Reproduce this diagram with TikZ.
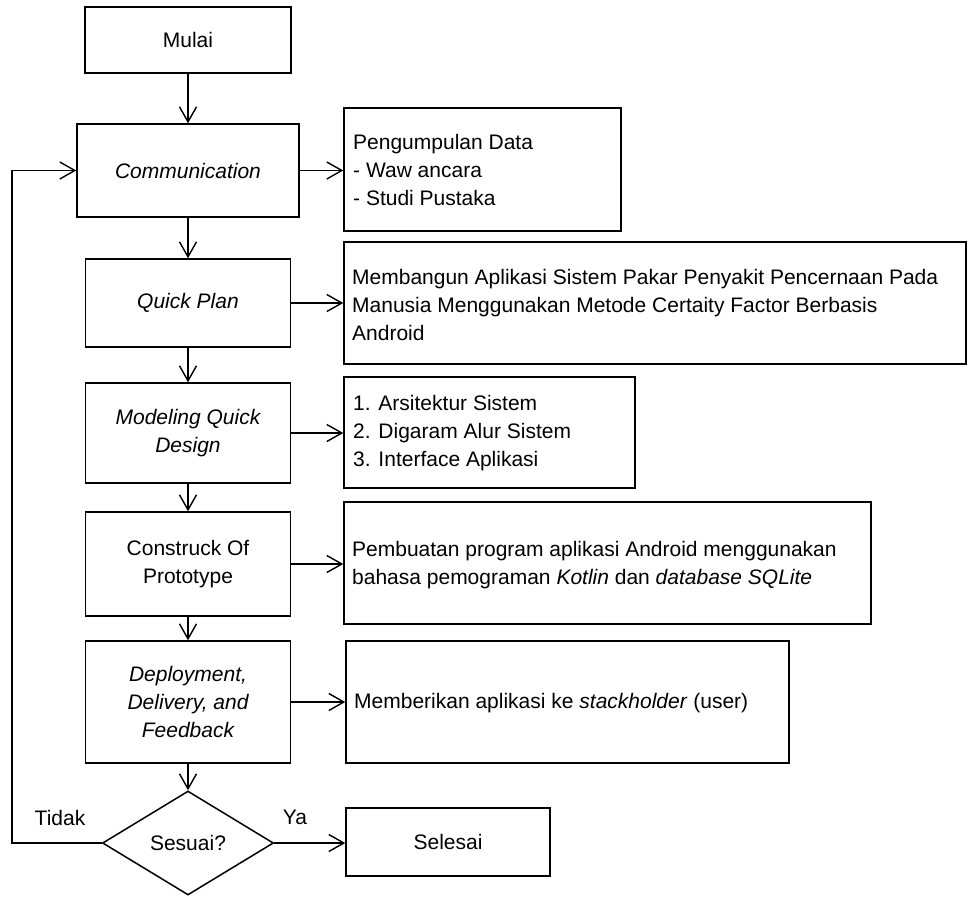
\documentclass[tikz,border=0pt]{standalone}
\usepackage{fontspec}
\setmainfont{Liberation Sans}
\usetikzlibrary{shapes.geometric,arrows.meta}
\begin{document}
\begin{tikzpicture}[x=1pt,y=-1pt,
  every node/.style={font=\fontsize{21}{28}\selectfont},
  box/.style={draw, line width=1.5pt, inner sep=0pt, align=center},
  txt/.style={inner sep=0pt, align=left, anchor=west},
  arr/.style={line width=1.4pt, -{Straight Barb[length=15pt,width=17pt,line width=1.4pt]}}
]
\useasboundingbox (0,0) rectangle (968,897);
% left column
\node[box, minimum width=206pt, minimum height=66pt] (mulai) at (188,40) {Mulai};
\node[box, minimum width=222pt, minimum height=93pt] (comm) at (188,170.5) {\itshape Communication};
\node[box, minimum width=205pt, minimum height=88pt] (qp) at (188,303) {\itshape Quick Plan};
\node[box, minimum width=205pt, minimum height=100pt] (model) at (188,433) {\itshape Modeling Quick\\\itshape Design};
\node[box, minimum width=205pt, minimum height=104pt] (cons) at (188,564) {Construck Of\\Prototype};
\node[box, minimum width=205pt, minimum height=122pt] (dep) at (188,702) {\itshape Deployment,\\\itshape Delivery, and\\\itshape Feedback};
\node[box, shape=diamond, minimum width=171pt, minimum height=104pt] (dia) at (188,843) {Sesuai?};
\node[box, minimum width=204pt, minimum height=68pt] (sel) at (448,842) {Selesai};
% right column boxes
\node[box, minimum width=277pt, minimum height=123pt] (b1) at (482.5,169.5) {};
\node[box, minimum width=622pt, minimum height=122pt] (b2) at (655,303) {};
\node[box, minimum width=291pt, minimum height=111pt] (b3) at (489.5,432.5) {};
\node[box, minimum width=527pt, minimum height=122pt] (b4) at (607.5,563) {};
\node[box, minimum width=443pt, minimum height=122pt] (b5) at (567.5,702) {};
% right column texts
\node[txt] (t1) at (353,170) {Pengumpulan Data\\- Waw ancara\\- Studi Pustaka};
\node[txt] (t2) at (352,305) {Membangun Aplikasi Sistem Pakar Penyakit Pencernaan Pada\\Manusia Menggunakan Metode Certaity Factor Berbasis\\Android};
\node[txt] (t3) at (353,433) {1. Arsitektur Sistem\\2. Digaram Alur Sistem\\3. Interface Aplikasi};
\node[txt] (t4) at (352,565) {Pembuatan program aplikasi Android menggunakan\\bahasa pemograman \textit{Kotlin} dan \textit{database SQLite}};
\node[txt] (t5) at (354,703) {Memberikan aplikasi ke \textit{stackholder} (user)};
% labels
\node (tidak) at (60,818) {Tidak};
\node (ya) at (295,817) {Ya};
% vertical arrows
\draw[arr] (mulai.south) -- (mulai.south |- comm.north);
\draw[arr] (comm.south) -- (comm.south |- qp.north);
\draw[arr] (qp.south) -- (qp.south |- model.north);
\draw[arr] (model.south) -- (model.south |- cons.north);
\draw[arr] (cons.south) -- (cons.south |- dep.north);
\draw[arr] (dep.south) -- (dia.north);
% horizontal arrows
\draw[arr] (comm.east) -- (comm.east -| b1.west);
\draw[arr] (qp.east) -- (qp.east -| b2.west);
\draw[arr] (model.east) -- (model.east -| b3.west);
\draw[arr] (cons.east) -- (cons.east -| b4.west);
\draw[arr] (dep.east) -- (dep.east -| b5.west);
\draw[arr] (dia.east) -- (dia.east -| sel.west);
% loop back
\coordinate (lp) at (12,843);
\draw[arr] (dia.west) -- (lp) |- (comm.west);
\end{tikzpicture}
\end{document}
